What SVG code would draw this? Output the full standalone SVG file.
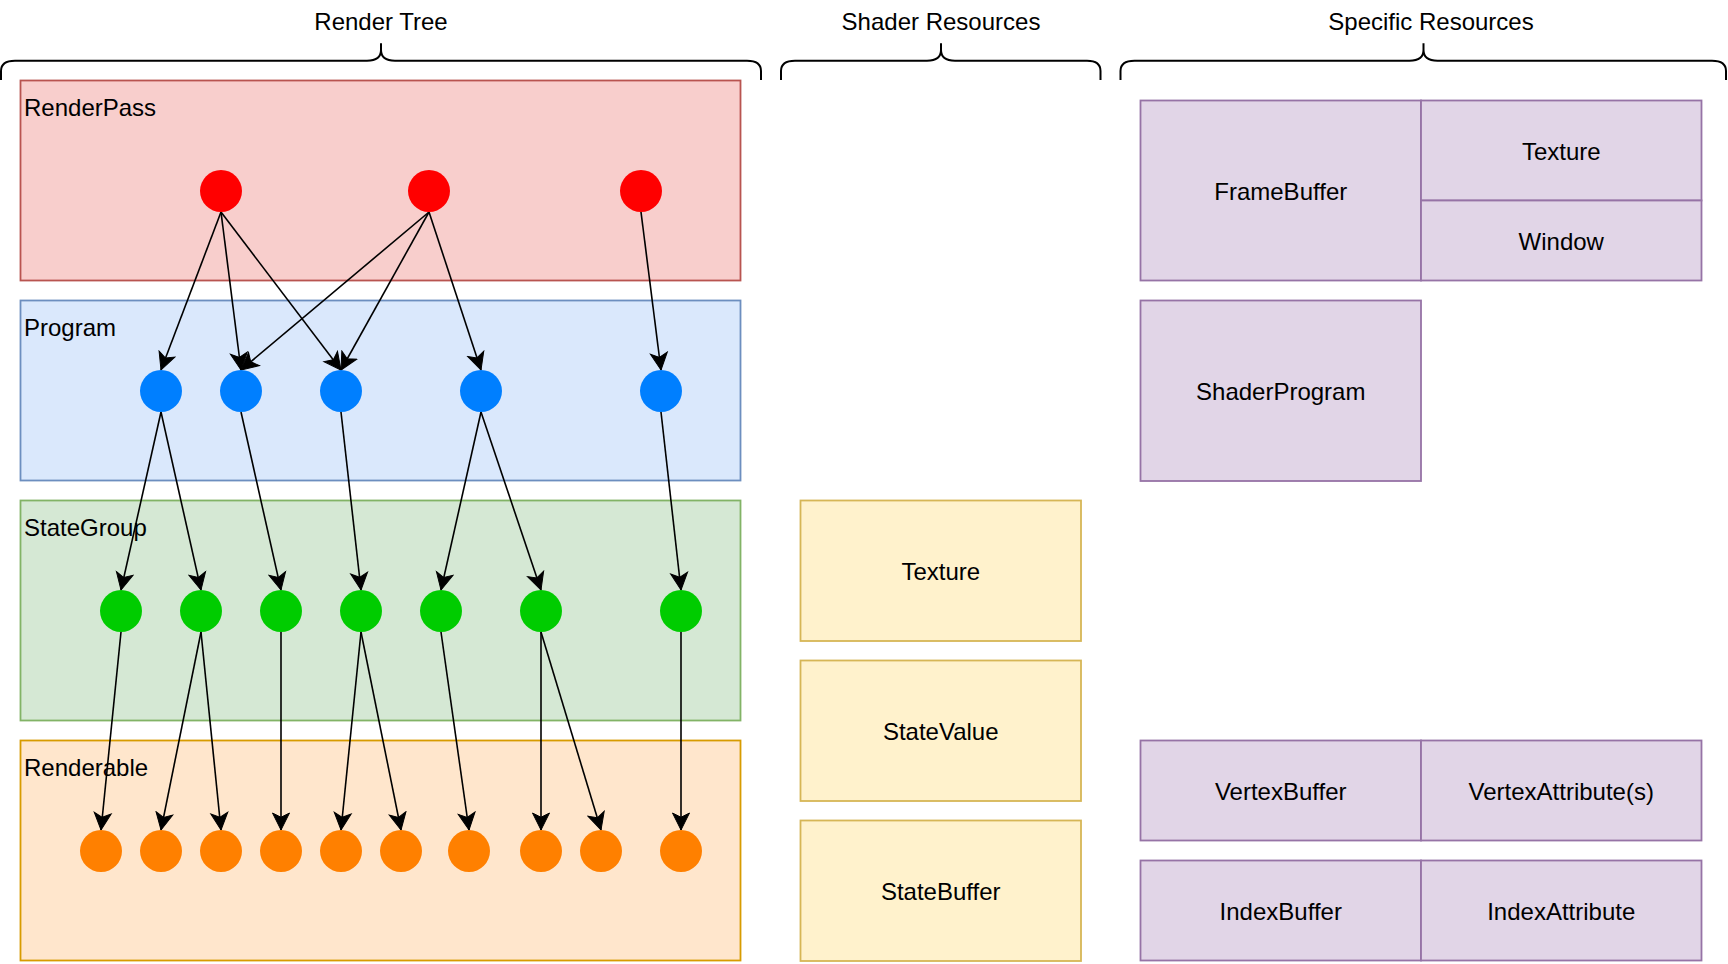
<svg xmlns="http://www.w3.org/2000/svg" width="1728" height="964" viewBox="0 0 1728 964">
<style>
text{font-family:"Liberation Sans",Arial,Helvetica,sans-serif;font-size:24px;fill:#000}
.c{text-anchor:middle}
.brace{fill:none;stroke:#000;stroke-width:2}
.rp{fill:#f8cecc;stroke:#b85450;stroke-width:1.8}
.pg{fill:#dae8fc;stroke:#6c8ebf;stroke-width:1.8}
.sg{fill:#d5e8d4;stroke:#82b366;stroke-width:1.8}
.rb{fill:#ffe6cc;stroke:#d79b00;stroke-width:1.8}
.sh{fill:#fff2cc;stroke:#d6b656;stroke-width:1.8}
.sp{fill:#e1d5e7;stroke:#9673a6;stroke-width:1.8}
.red{fill:#ff0000}
.blue{fill:#007fff}
.green{fill:#00cc00}
.orange{fill:#ff8000}
.e{stroke:#000;stroke-width:1.6;fill:none;marker-end:url(#arr)}
</style>
<defs>
<marker id="arr" markerUnits="userSpaceOnUse" viewBox="-18 -10 20 20" markerWidth="20" markerHeight="20" refX="0" refY="0" orient="auto">
<path d="M0,0 L-17,-8.5 L-12.75,0 L-17,8.5 Z" fill="#000" stroke="#000" stroke-width="1"/>
</marker>
</defs>
<rect width="1728" height="964" fill="#fff"/>

<g id="titles">
<text class="c" x="381" y="30">Render Tree</text>
<text class="c" x="941" y="30">Shader Resources</text>
<text class="c" x="1431" y="30">Specific Resources</text>
<path class="brace" d="M1,80 V71 Q1,60.7 15,60.7 H367 Q381,60.7 381,50 V43.3 V50 Q381,60.7 395,60.7 H747 Q761,60.7 761,71 V80"/>
<path class="brace" d="M781,80 V71 Q781,60.7 795,60.7 H927 Q941,60.7 941,50 V43.3 V50 Q941,60.7 955,60.7 H1087 Q1100.5,60.7 1100.5,71 V80"/>
<path class="brace" d="M1120.5,80 V71 Q1120.5,60.7 1134.5,60.7 H1409.5 Q1423.5,60.7 1423.5,50 V43.3 V50 Q1423.5,60.7 1437.5,60.7 H1712 Q1726,60.7 1726,71 V80"/>
</g>

<g id="renderpass">
<rect class="rp" x="20.5" y="80.5" width="720" height="200"/>
<text x="24" y="115.5">RenderPass</text>
</g>
<g id="program">
<rect class="pg" x="20.5" y="300.5" width="720" height="180"/>
<text x="24" y="335.5">Program</text>
</g>
<g id="stategroup">
<rect class="sg" x="20.5" y="500.5" width="720" height="220"/>
<text x="24" y="535.5">StateGroup</text>
</g>
<g id="renderable">
<rect class="rb" x="20.5" y="740.5" width="720" height="220"/>
<text x="24" y="775.5">Renderable</text>
</g>

<g id="shader-texture"><rect class="sh" x="800.5" y="500.5" width="280.5" height="140.5"/><text class="c" x="940.75" y="580">Texture</text></g>
<g id="shader-statevalue"><rect class="sh" x="800.5" y="660.5" width="280.5" height="140.5"/><text class="c" x="940.75" y="740.2">StateValue</text></g>
<g id="shader-statebuffer"><rect class="sh" x="800.5" y="820.5" width="280.5" height="140.5"/><text class="c" x="940.75" y="900.2">StateBuffer</text></g>

<g id="spec-framebuffer"><rect class="sp" x="1140.5" y="100.5" width="280.5" height="180"/><text class="c" x="1280.75" y="199.7">FrameBuffer</text></g>
<g id="spec-texture"><rect class="sp" x="1421" y="100.5" width="280.5" height="100"/><text class="c" x="1561.25" y="159.7">Texture</text></g>
<g id="spec-window"><rect class="sp" x="1421" y="200.5" width="280.5" height="80"/><text class="c" x="1561.25" y="249.7">Window</text></g>
<g id="spec-shaderprogram"><rect class="sp" x="1140.5" y="300.5" width="280.5" height="180.5"/><text class="c" x="1280.75" y="400">ShaderProgram</text></g>
<g id="spec-vertexbuffer"><rect class="sp" x="1140.5" y="740.5" width="280.5" height="100"/><text class="c" x="1280.75" y="799.7">VertexBuffer</text></g>
<g id="spec-vertexattribute"><rect class="sp" x="1421" y="740.5" width="280.5" height="100"/><text class="c" x="1561.25" y="799.7">VertexAttribute(s)</text></g>
<g id="spec-indexbuffer"><rect class="sp" x="1140.5" y="860.5" width="280.5" height="100"/><text class="c" x="1280.75" y="919.7">IndexBuffer</text></g>
<g id="spec-indexattribute"><rect class="sp" x="1421" y="860.5" width="280.5" height="100"/><text class="c" x="1561.25" y="919.7">IndexAttribute</text></g>

<g id="connectors">
<line class="e" x1="221" y1="212" x2="161" y2="370"/>
<line class="e" x1="221" y1="212" x2="241" y2="370"/>
<line class="e" x1="221" y1="212" x2="341" y2="370"/>
<line class="e" x1="429" y1="212" x2="241" y2="370"/>
<line class="e" x1="429" y1="212" x2="341" y2="370"/>
<line class="e" x1="429" y1="212" x2="481" y2="370"/>
<line class="e" x1="641" y1="212" x2="661" y2="370"/>
<line class="e" x1="161" y1="412" x2="121" y2="590"/>
<line class="e" x1="161" y1="412" x2="201" y2="590"/>
<line class="e" x1="241" y1="412" x2="281" y2="590"/>
<line class="e" x1="341" y1="412" x2="361" y2="590"/>
<line class="e" x1="481" y1="412" x2="441" y2="590"/>
<line class="e" x1="481" y1="412" x2="541" y2="590"/>
<line class="e" x1="661" y1="412" x2="681" y2="590"/>
<line class="e" x1="121" y1="632" x2="101" y2="830"/>
<line class="e" x1="201" y1="632" x2="161" y2="830"/>
<line class="e" x1="201" y1="632" x2="221" y2="830"/>
<line class="e" x1="281" y1="632" x2="281" y2="830"/>
<line class="e" x1="361" y1="632" x2="341" y2="830"/>
<line class="e" x1="361" y1="632" x2="401" y2="830"/>
<line class="e" x1="441" y1="632" x2="469" y2="830"/>
<line class="e" x1="541" y1="632" x2="541" y2="830"/>
<line class="e" x1="541" y1="632" x2="601" y2="830"/>
<line class="e" x1="681" y1="632" x2="681" y2="830"/>
</g>

<g id="rp-nodes">
<circle id="r1" class="red" cx="221" cy="191" r="21"/>
<circle id="r2" class="red" cx="429" cy="191" r="21"/>
<circle id="r3" class="red" cx="641" cy="191" r="21"/>
</g>
<g id="pg-nodes">
<circle id="b1" class="blue" cx="161" cy="391" r="21"/>
<circle id="b2" class="blue" cx="241" cy="391" r="21"/>
<circle id="b3" class="blue" cx="341" cy="391" r="21"/>
<circle id="b4" class="blue" cx="481" cy="391" r="21"/>
<circle id="b5" class="blue" cx="661" cy="391" r="21"/>
</g>
<g id="sg-nodes">
<circle id="g1" class="green" cx="121" cy="611" r="21"/>
<circle id="g2" class="green" cx="201" cy="611" r="21"/>
<circle id="g3" class="green" cx="281" cy="611" r="21"/>
<circle id="g4" class="green" cx="361" cy="611" r="21"/>
<circle id="g5" class="green" cx="441" cy="611" r="21"/>
<circle id="g6" class="green" cx="541" cy="611" r="21"/>
<circle id="g7" class="green" cx="681" cy="611" r="21"/>
</g>
<g id="rb-nodes">
<circle id="o1" class="orange" cx="101" cy="851" r="21"/>
<circle id="o2" class="orange" cx="161" cy="851" r="21"/>
<circle id="o3" class="orange" cx="221" cy="851" r="21"/>
<circle id="o4" class="orange" cx="281" cy="851" r="21"/>
<circle id="o5" class="orange" cx="341" cy="851" r="21"/>
<circle id="o6" class="orange" cx="401" cy="851" r="21"/>
<circle id="o7" class="orange" cx="469" cy="851" r="21"/>
<circle id="o8" class="orange" cx="541" cy="851" r="21"/>
<circle id="o9" class="orange" cx="601" cy="851" r="21"/>
<circle id="o10" class="orange" cx="681" cy="851" r="21"/>
</g>
</svg>
